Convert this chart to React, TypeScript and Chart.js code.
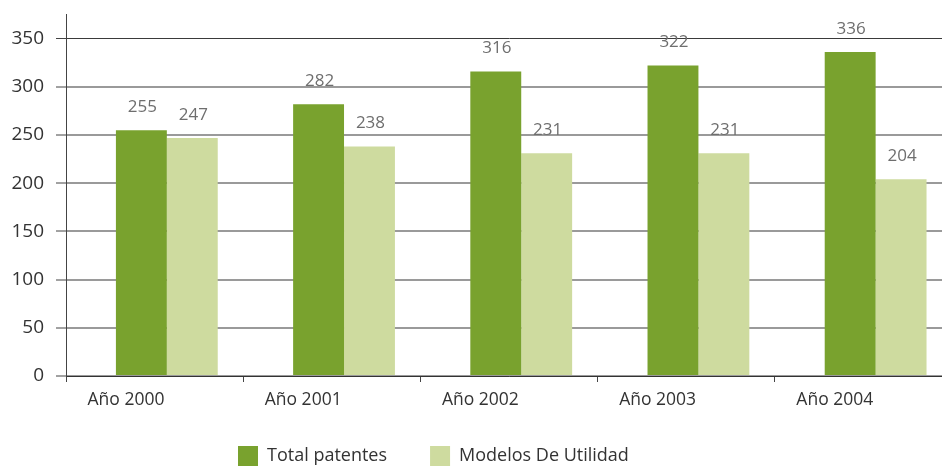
import { useEffect, useRef } from "react";
import { Chart, registerables } from "chart.js";

Chart.register(...registerables);

const categories = ["Año 2000", "Año 2001", "Año 2002", "Año 2003", "Año 2004"];
const seriesNames = ["Total patentes", "Modelos De Utilidad"];
const totalPatentes = [255, 282, 316, 322, 336];
const modelosUtilidad = [247, 238, 231, 231, 204];
const yMax = 375;
const yStep = 50;

const GROUP_POS = 0.569; // position of bar group inside each category slot
const COLORS = ["#79a22e", "#cedb9f"];
const LEGEND_PAD = 43;

const valueLabels = {
  id: "valueLabels",
  afterDatasetsDraw(chart: any) {
    const ctx = chart.ctx;
    ctx.save();
    ctx.font = '17px "Open Sans", sans-serif';
    ctx.fillStyle = "#6e6e6e";
    ctx.textAlign = "center";
    ctx.textBaseline = "middle";
    chart.data.datasets.forEach((ds: any, di: number) => {
      const meta = chart.getDatasetMeta(di);
      meta.data.forEach((el: any, i: number) => {
        const v = ds.data[i].y;
        ctx.fillText(String(v), el.x + 1, el.y - 23);
      });
    });
    ctx.restore();
  },
};

// place the legend row like the reference (low and left of centre)
const legendPlacer = {
  id: "legendPlacer",
  afterLayout(chart: any) {
    const lg = chart.legend;
    if (!lg) return;
    lg.top = 446 - LEGEND_PAD;
    lg.bottom = 520;
    const w = lg.right - lg.left;
    lg.left = 238 - LEGEND_PAD;
    lg.right = lg.left + w;
  },
};

export default function App() {
  const ref = useRef<HTMLCanvasElement | null>(null);

  useEffect(() => {
    document.body.style.margin = "0";
    Chart.defaults.font.family = '"Open Sans", sans-serif';
    const chart = new Chart(ref.current!, {
      type: "bar",
      data: {
        datasets: [
          {
            label: seriesNames[0],
            data: totalPatentes.map((v, i) => ({ x: i + GROUP_POS, y: v })),
            backgroundColor: COLORS[0],
            borderWidth: 0,
          },
          {
            label: seriesNames[1],
            data: modelosUtilidad.map((v, i) => ({ x: i + GROUP_POS, y: v })),
            backgroundColor: COLORS[1],
            borderWidth: 0,
          },
        ],
      },
      options: {
        animation: false,
        responsive: true,
        maintainAspectRatio: false,
        categoryPercentage: 0.5746,
        barPercentage: 1,
        layout: { padding: { top: 14.5, left: 0, right: 6.5, bottom: 0 } },
        plugins: {
          tooltip: { enabled: false },
          legend: {
            position: "bottom",
            align: "start",
            maxHeight: 40,
            labels: {
              boxWidth: 20,
              boxHeight: 20,
              padding: LEGEND_PAD,
              color: "#333",
              font: { size: 18 },
            },
          },
        },
        scales: {
          x: {
            type: "linear",
            offset: false,
            min: 0,
            max: categories.length,
            afterFit: (s: any) => {
              s.height = 50;
            },
            ticks: {
              stepSize: 1,
              autoSkip: false,
              maxRotation: 0,
              labelOffset: 60,
              padding: 8,
              color: "#333",
              font: { size: 17.5 },
              callback: (v: any) => categories[v as number] ?? "",
            },
            grid: {
              offset: false,
              drawOnChartArea: false,
              drawTicks: true,
              tickLength: 6,
              color: "#444",
            },
            border: { color: "#333", width: 1 },
          },
          y: {
            min: 0,
            max: yMax,
            afterFit: (s: any) => {
              s.width = 66;
              s.paddingTop = 0;
              s.paddingBottom = 0;
            },
            ticks: {
              stepSize: yStep,
              includeBounds: false,
              padding: 12,
              color: "#333",
              font: { size: 19 },
            },
            grid: {
              color: (c: any) => (c.tick && c.tick.value === 350 ? "#3a3a3a" : "#9a9a9a"),
              lineWidth: (c: any) => (c.tick && c.tick.value === 350 ? 1 : 2),
              tickLength: 10,
              tickColor: "#444",
              tickWidth: 1,
            },
            border: { color: "#444", width: 1 },
          },
        },
      },
      plugins: [valueLabels, legendPlacer],
    });
    return () => chart.destroy();
  }, []);

  return (
    <div style={{ width: 942, height: 466, overflow: "hidden", position: "relative" }}>
      <div style={{ width: 960, height: 466, position: "relative" }}>
        <canvas ref={ref} />
      </div>
    </div>
  );
}
